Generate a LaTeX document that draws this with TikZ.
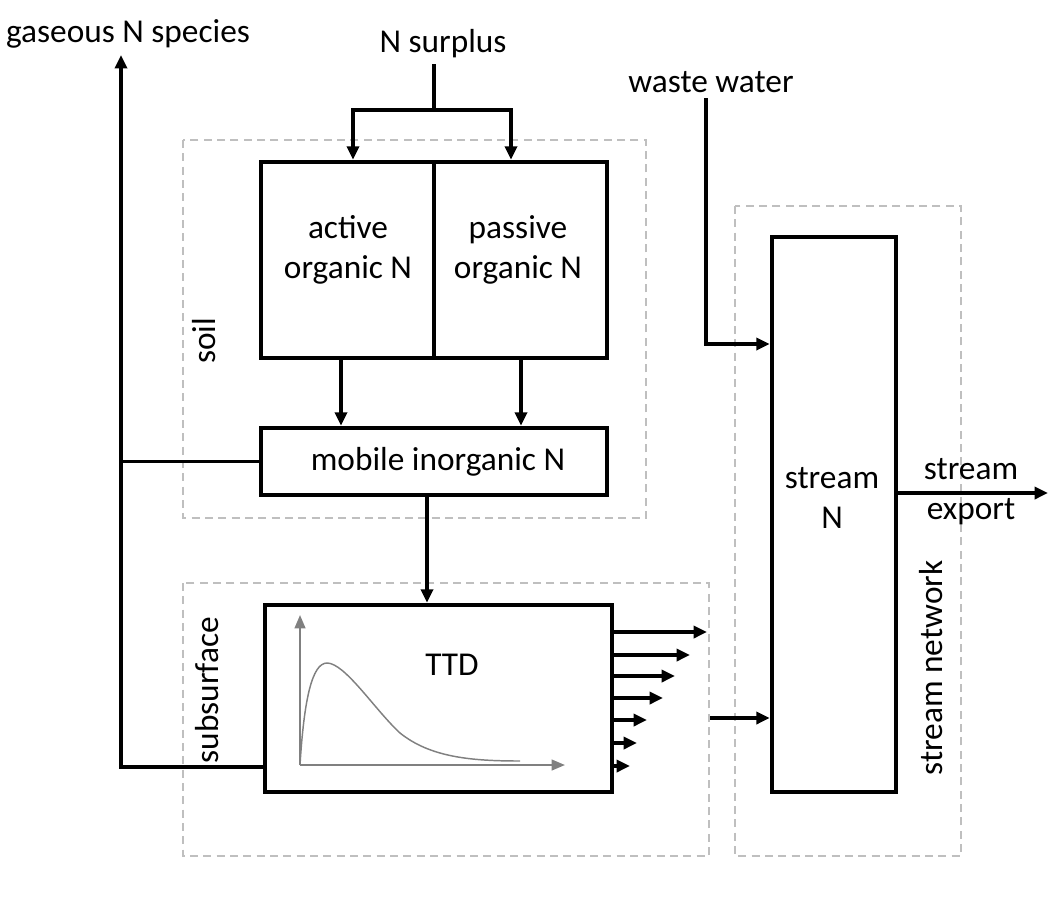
\documentclass[tikz,border=0pt]{standalone}
\usepackage{fontspec}
\setmainfont{Carlito}
\usetikzlibrary{arrows.meta}
\tikzset{
  box/.style={draw=black, line width=3.4pt, rectangle, inner sep=0pt},
  txt/.style={inner sep=0pt, align=center, font=\fontsize{25}{30}\selectfont},
  conn/.style={draw=black, line width=2.8pt},
  arr/.style={conn, -{Triangle[length=10pt,width=9pt]}},
  region/.style={draw=black!25, line width=1.5pt, dash pattern=on 6pt off 4pt},
  graphax/.style={draw=black!50, line width=1.6pt, -{Triangle[length=10pt,width=8pt]}},
  graphcurve/.style={draw=black!50, line width=1.1pt},
}
\begin{document}
\begin{tikzpicture}[x=0.75pt, y=-0.75pt]
\useasboundingbox (0,0) rectangle (1056,896);
% dashed regions
\draw[region] (183,140) rectangle (646,518);
\draw[region] (183,583) rectangle (709,856);
\draw[region] (735,206) rectangle (961,856);
% boxes
\node[box, minimum width=173*0.75pt, minimum height=196*0.75pt] (active) at (347.5,260) {};
\node[box, minimum width=173*0.75pt, minimum height=196*0.75pt] (passive) at (520.5,260) {};
\node[txt] (activetxt) at (348,250) {active\\organic N};
\node[txt] (passivetxt) at (518,250) {passive\\organic N};
\node[box, minimum width=346*0.75pt, minimum height=67*0.75pt] (mobile) at (434,461.5) {};
\node[txt] (mobiletxt) at (438,462) {mobile inorganic N};
\node[box, minimum width=347*0.75pt, minimum height=187*0.75pt] (ttd) at (438.5,698.5) {};
\node[txt] (ttdtxt) at (452,665) {TTD};
\node[box, minimum width=124*0.75pt, minimum height=555*0.75pt] (stream) at (834,514.5) {};
\node[txt] (streamtxt) at (832,498) {stream\\N};
% outside texts
\node[txt] (surplus) at (443,44) {N surplus};
\node[txt] (gas) at (128,34) {gaseous N species};
\node[txt] (waste) at (711,82) {waste water};
\node[txt] (export) at (971,492) {stream\\export};
\node[txt, rotate=90] (soil) at (204,341) {soil};
\node[txt, rotate=90] (subsurface) at (207,690) {subsurface};
\node[txt, rotate=90] (network) at (931,668) {stream network};
% N surplus split
\coordinate (split) at (434,110);
\coordinate (splitL) at (353,110);
\coordinate (splitR) at (511,110);
\draw[conn] (split |- 0,64) -- (split);
\draw[arr] (split) -- (splitL) -- (active.north -| splitL);
\draw[arr] (split) -- (splitR) -- (passive.north -| splitR);
% organic -> mobile
\draw[arr] (active.south -| 341,0) -- (mobile.north -| 341,0);
\draw[arr] (passive.south -| 521,0) -- (mobile.north -| 521,0);
% mobile -> TTD
\draw[arr] (mobile.south -| 427,0) -- (ttd.north -| 427,0);
% gaseous
\coordinate (gtop) at (121,55);
\coordinate (gbot) at (121,767);
\coordinate (gmid) at (gbot |- mobile.west);
\draw[arr] (ttd.west |- gbot) -- (gbot) -- (gtop);
\draw[conn] (mobile.west) -- (gmid);
% waste water
\coordinate (wbend) at (706,344);
\draw[arr] (706,98) -- (wbend) -- (stream.west |- wbend);
% TTD outflows
\foreach \yy/\xe in {632/707, 655/690, 676/675, 698/663, 720/647, 743/637, 766/630}
  \draw[arr] (ttd.east |- 0,\yy) -- (\xe,\yy);
\coordinate (sub) at (710,718);
\draw[arr] (sub) -- (stream.west |- sub);
% stream export
\draw[arr] (stream.east |- 0,493) -- (1048,493);
% TTD graph
\coordinate (origin) at (300,765);
\draw[graphax] (origin) -- (300,615);
\draw[graphax] (origin) -- (565,765);
\draw[graphcurve] (origin) .. controls (304,700) and (312,663) .. (327,663)
  .. controls (345,663) and (375,710) .. (400,733)
  .. controls (430,757) and (470,761) .. (520,761);
\end{tikzpicture}
\end{document}
